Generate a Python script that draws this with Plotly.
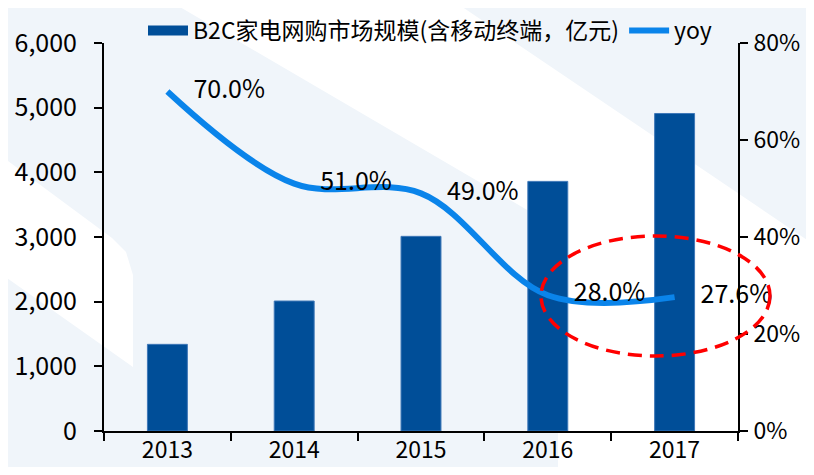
import plotly.graph_objects as go

years = ["2013", "2014", "2015", "2016", "2017"]
market_size = [1340, 2010, 3010, 3860, 4910]
yoy = [0.70, 0.51, 0.49, 0.28, 0.276]
yoy_labels = ["70.0%", "51.0%", "49.0%", "28.0%", "27.6%"]

bar_name = "B2C家电网购市场规模(含移动终端，亿元)"
line_name = "yoy"

# page body has an 8px margin; the figure is sized to fit the 814x475 window
OFF = 8
W, H = 814 - 2 * OFF, 475 - 2 * OFF
ML, MT = 104 - OFF, 43 - OFF
MR, MB = W - (738 - OFF), H - (431 - OFF)
PW, PH = W - ML - MR, H - MT - MB
FONT = "Noto Sans CJK SC"
FS = 25


def px(x):
    return (x - OFF - ML) / PW


def py(y):
    return (H - MB - (y - OFF)) / PH


def poly(pts):
    return "M " + " L ".join(f"{px(a):.4f},{py(b):.4f}" for a, b in pts) + " Z"


fig = go.Figure()
fig.add_trace(go.Bar(
    x=years, y=market_size, name=bar_name, showlegend=False,
    marker=dict(color="#004e98", line=dict(color="#3f78b8", width=1)),
    yaxis="y",
))
# legend entry for the bars, drawn as a wide rectangle swatch
fig.add_trace(go.Scatter(
    x=[None], y=[None], name=bar_name, mode="lines",
    line=dict(color="#004e98", width=16), yaxis="y", hoverinfo="skip",
))
fig.add_trace(go.Scatter(
    x=years, y=yoy, name=line_name, mode="lines",
    line=dict(color="#0a84ea", width=6, shape="spline", smoothing=1.0),
    yaxis="y2",
))
fig.add_trace(go.Scatter(
    x=years, y=yoy, mode="markers+text", text=yoy_labels,
    textposition="middle right", showlegend=False, hoverinfo="skip",
    marker=dict(size=40, opacity=0), cliponaxis=False,
    textfont=dict(family=FONT, size=FS, color="#000000"),
    yaxis="y2",
))

bg_shapes = [
    dict(type="path", path=poly([(168, 0), (452, 0), (822, 250), (822, 483), (558, 483), (558, 228)]),
         xref="paper", yref="paper", fillcolor="#ffffff", line=dict(width=0), layer="below"),
    dict(type="path", path=poly([(0, 155), (112, 238), (126, 252), (133, 275), (133, 367), (0, 273)]),
         xref="paper", yref="paper", fillcolor="#ffffff", line=dict(width=0), layer="below"),
]

ellipse = dict(type="circle", xref="paper", yref="paper",
               x0=px(541), x1=px(770), y0=py(356), y1=py(236),
               line=dict(color="#ff0000", width=3.5, dash="14px,8px"), layer="above")

axis_common = dict(showline=True, linecolor="#000000", linewidth=2, ticks="outside", ticklen=8,
                   tickcolor="#000000", tickwidth=2, showgrid=False, zeroline=False,
                   automargin=False)

fig.update_layout(
    width=W, height=H,
    margin=dict(l=ML, r=MR, t=MT, b=MB, autoexpand=False),
    paper_bgcolor="#f0f5fa",
    plot_bgcolor="rgba(0,0,0,0)",
    font=dict(family=FONT, size=FS, color="#000000"),
    bargap=0.685,
    showlegend=True,
    legend=dict(orientation="h", x=px(430), xanchor="center", y=1.0 + (MT - 1) / PH, yanchor="top",
                font=dict(family=FONT, size=23, color="#000000"),
                bgcolor="rgba(0,0,0,0)", itemwidth=40, tracegroupgap=0),
    xaxis=dict(type="category", tickson="boundaries", ticklabelstandoff=-3,
               tickfont=dict(family=FONT, size=23, color="#000000"), **axis_common),
    yaxis=dict(range=[0, 6000], dtick=1000, tickformat=",", ticklabelstandoff=12,
               tickfont=dict(family=FONT, size=FS, color="#000000"), **axis_common),
    yaxis2=dict(range=[0, 0.8], dtick=0.2, tickformat=".0%", overlaying="y", side="right",
                ticklabelstandoff=1, tickfont=dict(family=FONT, size=23, color="#000000"),
                **axis_common),
    shapes=bg_shapes + [ellipse],
)

fig.write_html("out.html")
